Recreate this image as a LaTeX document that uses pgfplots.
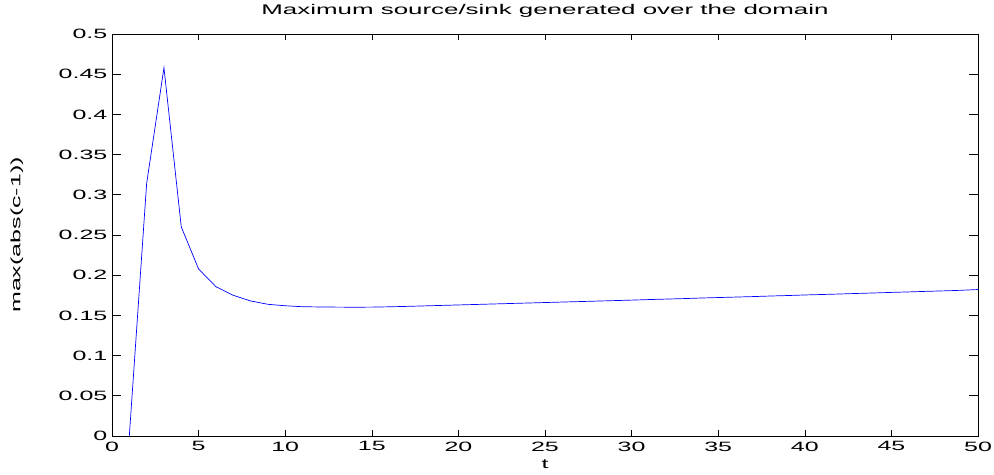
\documentclass[border=0pt]{standalone}
\usepackage{fontspec}
\setmainfont{Liberation Sans}[FakeStretch=1.85]
\usepackage{pgfplots}
\pgfplotsset{compat=1.18}
\begin{document}
\fontsize{13.5bp}{16bp}\selectfont
\begin{tikzpicture}
\begin{axis}[
  scale only axis,
  width=866bp, height=402bp,
  xmin=0, xmax=50, ymin=0, ymax=0.5,
  xtick={0,5,...,50},
  ytick={0,0.05,0.1,0.15,0.2,0.25,0.3,0.35,0.4,0.45,0.5},
  yticklabels={0,0.05,0.1,0.15,0.2,0.25,0.3,0.35,0.4,0.45,0.5},
  tick align=inside,
  xtick pos=both, ytick pos=both,
  major tick length=6bp,
  ytick style={/pgfplots/major tick length=9bp},
  tick style={black, line width=0.6bp},
  axis line style={black, line width=0.8bp},
  /pgf/number format/assume math mode=true,
  tick label style={font=\fontsize{13.5bp}{16bp}\selectfont},
  xticklabel style={yshift=-1bp},
  yticklabel style={xshift=0bp},
  title={Maximum source/sink generated over the domain},
  title style={font=\fontsize{14bp}{16bp}\selectfont, at={(axis description cs:0.5,1.0415)}, anchor=center},
  xlabel={t},
  xlabel style={font=\fontsize{13.5bp}{16bp}\selectfont, at={(axis description cs:0.5,-0.0697)}, anchor=center},
  ylabel={max(abs(c-1))},
  ylabel style={font=\fontsize{13.5bp}{16bp}\selectfont, at={(axis description cs:-0.1097,0.5)}, anchor=center},
  clip=false,
]
\addplot[color={rgb,1:red,0;green,0;blue,1}, line width=0.7bp] coordinates {
(1,0) (2,0.314) (3,0.458) (4,0.260) (5,0.2077) (6,0.1857) (7,0.175) (8,0.168) (9,0.1638) (10,0.162)
(11,0.1608) (12,0.1605) (13,0.1603) (14,0.1602) (15,0.1603) (16,0.1607) (17,0.1612) (18,0.1618) (19,0.1624) (20,0.1630)
(21,0.1636) (22,0.1642) (23,0.1648) (24,0.1654) (25,0.1660) (26,0.1666) (27,0.1672) (28,0.1678) (29,0.1684) (30,0.1690)
(31,0.1697) (32,0.1703) (33,0.1709) (34,0.1716) (35,0.1722) (36,0.1728) (37,0.1734) (38,0.1741) (39,0.1747) (40,0.1754)
(41,0.1760) (42,0.1766) (43,0.1773) (44,0.1779) (45,0.1786) (46,0.1792) (47,0.1799) (48,0.1805) (49,0.1812) (50,0.1822)
};
\coordinate (ll) at (rel axis cs:0,0);
\coordinate (ur) at (rel axis cs:1,1);
\end{axis}
\pgfresetboundingbox
\path ([xshift=-112bp,yshift=-39bp]ll) rectangle ([xshift=16bp,yshift=34bp]ur);
\end{tikzpicture}
\end{document}
